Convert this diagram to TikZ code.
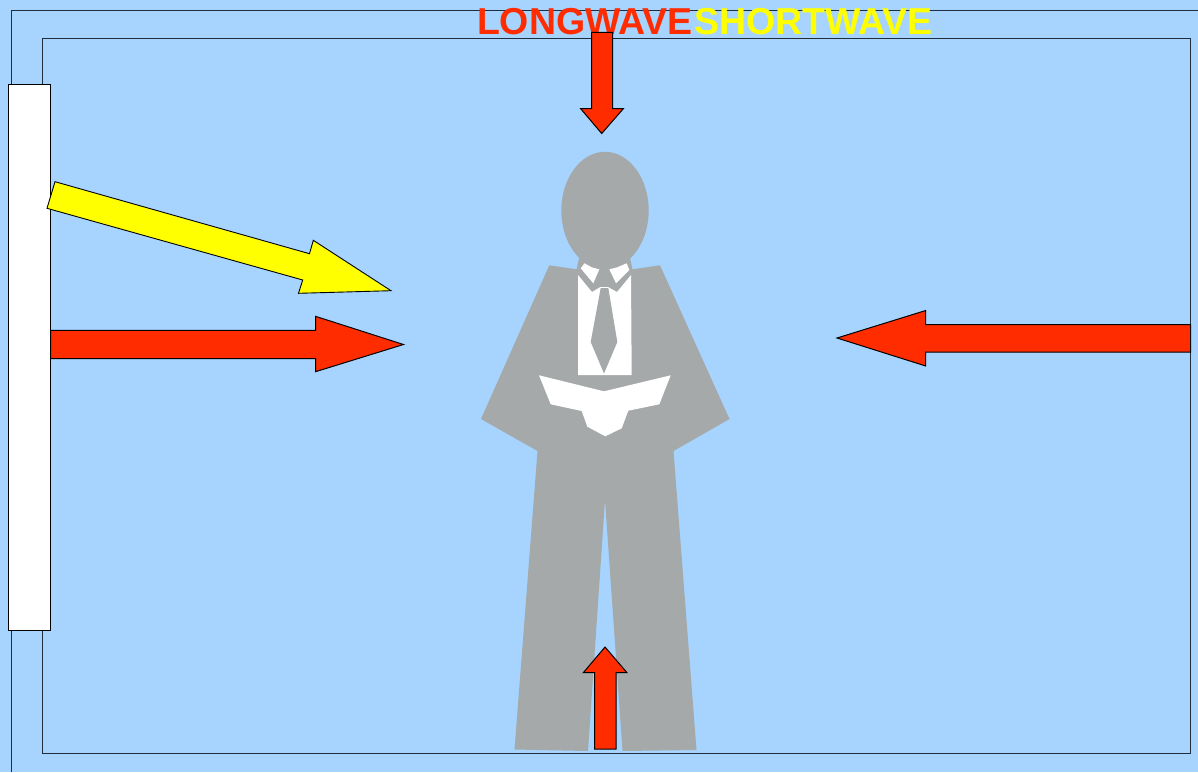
\documentclass[tikz,border=0pt]{standalone}
\usepackage{fontspec}
\setmainfont{Liberation Sans}
\definecolor{skyb}{HTML}{A6D4FF}
\definecolor{suit}{HTML}{A5A9A9}
\definecolor{wred}{HTML}{FF2C00}
\definecolor{wyel}{HTML}{FFFF00}
\definecolor{frameline}{HTML}{1F2D3D}
\tikzset{
  frameln/.style={draw=frameline,line width=1.3pt},
  redarrow/.style={draw=black,fill=wred,line width=1pt,line join=miter},
  yelarrow/.style={draw=black,fill=wyel,line width=0.9pt,line join=miter},
  suitshape/.style={fill=suit},
  whiteshape/.style={fill=white},
  title/.style={font=\bfseries\fontsize{37.5}{37.5}\selectfont,inner sep=0pt,anchor=base west}
}
\begin{document}
\begin{tikzpicture}[x=1pt,y=-1pt]
\useasboundingbox (0,0) rectangle (1198,772);
\fill[skyb] (0,0) rectangle (1198,772);
% frames
\draw[frameln] (11.3,772) -- (11.3,10.8) -- (1198,10.8);
\draw[frameln] (42.3,38.2) -- (1190.7,38.2) -- (1190.7,753.5) -- (42.3,753.5) -- cycle;
% title
\node[title,text=wred] (lw) at (476.8,34.2) {LONGWAVE};
\node[title,text=wyel] (sw) at (693.8,34.2) {SHORTWAVE};
% figure
\fill[suitshape] (605,210.5) ellipse [x radius=43.7,y radius=58.7];
\fill[suitshape] (579,258) -- (630,258) -- (632.5,269.3) -- (660,265.3) -- (729.5,419) -- (673.5,451) -- (696.5,750) -- (622.5,751) -- (605,500) -- (588,751) -- (514.5,749.5) -- (537.5,451) -- (481,419) -- (549.3,265.3) -- (576.7,269.3) -- cycle;
\fill[whiteshape] (578,275) -- (592,292) -- (600,287.2) -- (608.3,287.2) -- (617,292) -- (631,275) -- (631.7,375) -- (578,375) -- cycle;
\fill[suitshape] (600.7,288) -- (608.3,288) -- (617.3,342) -- (604,373.5) -- (590.7,342) -- cycle;
\fill[whiteshape] (580.7,268.3) -- (584.5,263.3) -- (591.7,267.3) -- (599.3,269.3) -- (593.3,283.3) -- cycle;
\fill[whiteshape] (609.3,269.3) -- (617.3,267.3) -- (626.7,263.3) -- (629.3,270) -- (616,283.3) -- cycle;
\fill[whiteshape] (539,375.3) -- (604,391.3) -- (670.7,375.3) -- (659.3,404.3) -- (628.3,410.7) -- (621.7,428.3) -- (605.3,436.3) -- (587.3,426.7) -- (581.7,411) -- (550.7,404.3) -- cycle;
% window
\draw[draw=black,fill=white,line width=1pt] (8.5,84.5) rectangle (50.5,630.5);
% arrows
\draw[yelarrow] (55,181.7) -- (309.5,253.7) -- (313.3,240.3) -- (391,290.7) -- (298.5,293.3) -- (302.7,280) -- (47,208.3) -- cycle;
\draw[redarrow] (50.5,330.3) -- (315.5,330.3) -- (315.5,316.3) -- (403.5,344.5) -- (315.5,371.7) -- (315.5,358.5) -- (50.5,358.5) -- cycle;
\draw[redarrow] (1190.5,324.5) -- (925.7,324.5) -- (925.7,310.5) -- (837,338) -- (925.7,366) -- (925.7,352) -- (1190.5,352) -- cycle;
\draw[redarrow] (591.5,32.3) -- (612.7,32.3) -- (612.7,108.5) -- (623.5,108.5) -- (601.7,133.5) -- (580.5,108.5) -- (591.5,108.5) -- cycle;
\draw[redarrow] (605,647) -- (627,672.7) -- (616,672.7) -- (616,749) -- (594.5,749) -- (594.5,672.7) -- (583.3,672.7) -- cycle;
\end{tikzpicture}
\end{document}
